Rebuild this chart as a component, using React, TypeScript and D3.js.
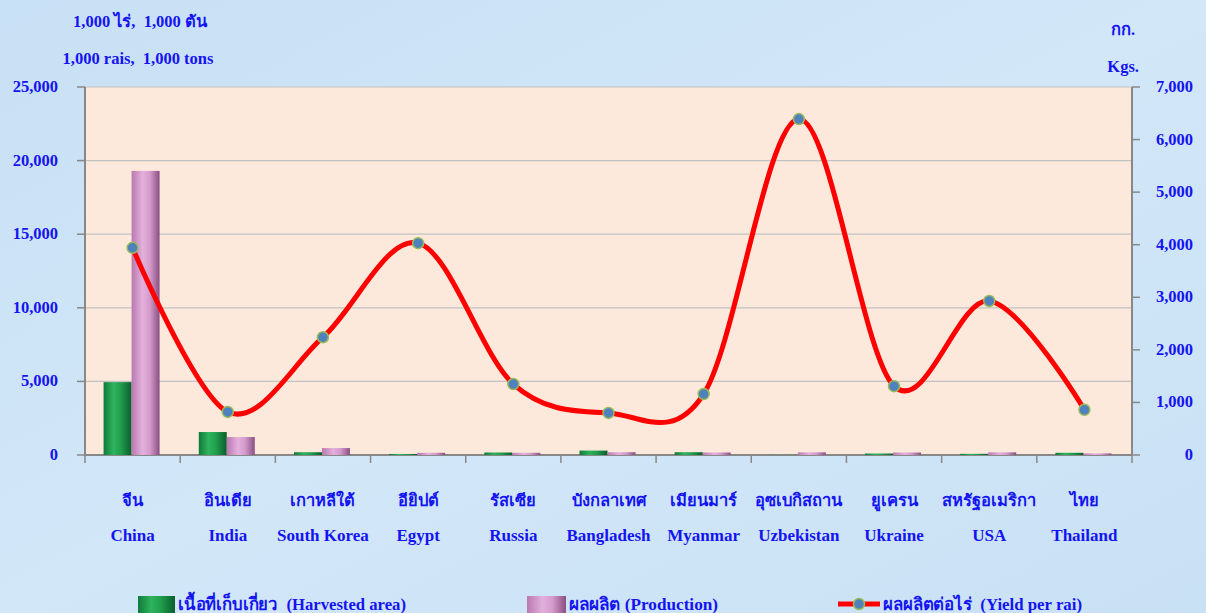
import React from "react";
import * as d3 from "d3";

const categoriesTh = ["จีน", "อินเดีย", "เกาหลีใต้", "อียิปต์", "รัสเซีย", "บังกลาเทศ", "เมียนมาร์", "อุซเบกิสถาน", "ยูเครน", "สหรัฐอเมริกา", "ไทย"];
const categoriesEn = ["China", "India", "South Korea", "Egypt", "Russia", "Bangladesh", "Myanmar", "Uzbekistan", "Ukraine", "USA", "Thailand"];
const harvestedArea = [4950, 1560, 190, 70, 170, 300, 190, 10, 100, 80, 150];
const production = [19300, 1220, 470, 150, 150, 190, 170, 180, 170, 180, 110];
const yieldPerRai = [3940, 820, 2240, 4030, 1350, 800, 1160, 6390, 1310, 2930, 860];
const leftTicks = [0, 5000, 10000, 15000, 20000, 25000];
const rightTicks = [0, 1000, 2000, 3000, 4000, 5000, 6000, 7000];

const W = 1206, H = 613;
const L = 85, R = 1132, T = 87, B = 455;
const BLUE = "#1414f2";
const FONT = "'Times New Roman', 'Liberation Serif', serif";

export default function App() {
  const x = d3.scaleBand<number>().domain(d3.range(categoriesEn.length)).range([L, R]).padding(0);
  const bw = x.bandwidth();
  const yL = d3.scaleLinear().domain([0, 25000]).range([B, T]);
  const yR = d3.scaleLinear().domain([0, 7000]).range([B, T]);
  const x1 = d3.scaleBand<string>().domain(["area", "prod"]).range([bw / 2 - 29, bw / 2 + 27]).padding(0);
  const fmt = d3.format(",");
  const cx = (i: number) => (x(i) as number) + bw / 2;
  const line = d3.line<number>().x((_, i) => cx(i)).y((d) => yR(d)).curve(d3.curveCatmullRom.alpha(0));
  const pre = { whiteSpace: "pre" as const };

  return (
    <svg width={W} height={H} style={{ position: "absolute", left: 0, top: 0 }} fontFamily={FONT}>
      <defs>
        <linearGradient id="bg" x1="0" y1="0" x2="1" y2="1">
          <stop offset="0" stopColor="#c8e0f5" />
          <stop offset="0.5" stopColor="#d2e7f8" />
          <stop offset="1" stopColor="#c9e1f5" />
        </linearGradient>
        <linearGradient id="gGreen" x1="0" y1="0" x2="1" y2="0">
          <stop offset="0" stopColor="#0e7a3a" />
          <stop offset="0.35" stopColor="#2fb35c" />
          <stop offset="0.6" stopColor="#21a04e" />
          <stop offset="1" stopColor="#0b5e2c" />
        </linearGradient>
        <linearGradient id="gPink" x1="0" y1="0" x2="1" y2="0">
          <stop offset="0" stopColor="#b879b0" />
          <stop offset="0.4" stopColor="#e3b0dc" />
          <stop offset="0.65" stopColor="#d49bcc" />
          <stop offset="1" stopColor="#8a4f83" />
        </linearGradient>
      </defs>
      <rect x={0} y={0} width={W} height={H} fill="url(#bg)" />
      <rect x={L} y={T} width={R - L} height={B - T} fill="#fce9dc" />

      {leftTicks.map((t) => (
        <g key={"l" + t}>
          <line x1={L} x2={R} y1={yL(t)} y2={yL(t)} stroke="#c2c2c2" strokeWidth={1.2} />
          <line x1={L - 8} x2={L} y1={yL(t)} y2={yL(t)} stroke="#888" strokeWidth={1.5} />
          <text x={58} y={yL(t) + 5} textAnchor="end" fill={BLUE} fontWeight="bold" fontSize={16.5}>{fmt(t)}</text>
        </g>
      ))}
      {rightTicks.map((t) => (
        <g key={"r" + t}>
          <line x1={R} x2={R + 8} y1={yR(t)} y2={yR(t)} stroke="#888" strokeWidth={1.5} />
          <text x={1193} y={yR(t) + 5} textAnchor="end" fill={BLUE} fontWeight="bold" fontSize={16.5}>{fmt(t)}</text>
        </g>
      ))}
      <line x1={L} x2={L} y1={T} y2={B} stroke="#888" strokeWidth={2} />
      <line x1={R} x2={R} y1={T} y2={B} stroke="#888" strokeWidth={2} />
      <line x1={L} x2={R} y1={B} y2={B} stroke="#888" strokeWidth={2} />
      {d3.range(categoriesEn.length + 1).map((i) => (
        <line key={"xt" + i} x1={L + i * bw} x2={L + i * bw} y1={B} y2={B + 8} stroke="#888" strokeWidth={1.5} />
      ))}

      {categoriesEn.map((c, i) => (
        <g key={"b" + c}>
          <rect x={(x(i) as number) + (x1("area") as number)} width={x1.bandwidth()} y={yL(harvestedArea[i])} height={B - yL(harvestedArea[i])} fill="url(#gGreen)" />
          <rect x={(x(i) as number) + (x1("prod") as number)} width={x1.bandwidth()} y={yL(production[i])} height={B - yL(production[i])} fill="url(#gPink)" />
        </g>
      ))}

      <path d={line(yieldPerRai) || ""} fill="none" stroke="#ff0000" strokeWidth={5} />
      {yieldPerRai.map((v, i) => (
        <circle key={"m" + i} cx={cx(i)} cy={yR(v)} r={5.5} fill="#4f81bd" stroke="#9bbb59" strokeWidth={1.5} />
      ))}

      {categoriesEn.map((c, i) => (
        <g key={"xl" + c}>
          <text x={cx(i)} y={506} textAnchor="middle" fill={BLUE} fontWeight="bold" fontSize={16.5}>{categoriesTh[i]}</text>
          <text x={cx(i)} y={541} textAnchor="middle" fill={BLUE} fontWeight="bold" fontSize={17}>{c}</text>
        </g>
      ))}

      <text x={140} y={27} textAnchor="middle" fill={BLUE} fontWeight="bold" fontSize={16.5} style={pre}>{"1,000 ไร่,  1,000 ตัน"}</text>
      <text x={138} y={64} textAnchor="middle" fill={BLUE} fontWeight="bold" fontSize={16.5} style={pre}>{"1,000 rais,  1,000 tons"}</text>
      <text x={1135} y={35} textAnchor="end" fill={BLUE} fontWeight="bold" fontSize={16.5}>กก.</text>
      <text x={1139} y={72} textAnchor="end" fill={BLUE} fontWeight="bold" fontSize={16.5}>Kgs.</text>

      <rect x={138} y={596} width={37} height={17} fill="url(#gGreen)" />
      <text x={178} y={610} fill={BLUE} fontWeight="bold" fontSize={17} textLength={228} lengthAdjust="spacingAndGlyphs" style={pre}>{"เนื้อที่เก็บเกี่ยว  (Harvested area)"}</text>
      <rect x={527} y={596} width={39} height={17} fill="url(#gPink)" />
      <text x={569} y={610} fill={BLUE} fontWeight="bold" fontSize={17} textLength={149} lengthAdjust="spacingAndGlyphs" style={pre}>{"ผลผลิต (Production)"}</text>
      <line x1={838} x2={880} y1={604} y2={604} stroke="#ff0000" strokeWidth={5} />
      <circle cx={859} cy={604} r={5.5} fill="#4f81bd" stroke="#9bbb59" strokeWidth={1.5} />
      <text x={883} y={610} fill={BLUE} fontWeight="bold" fontSize={17} textLength={199} lengthAdjust="spacingAndGlyphs" style={pre}>{"ผลผลิตต่อไร่  (Yield per rai)"}</text>
    </svg>
  );
}
